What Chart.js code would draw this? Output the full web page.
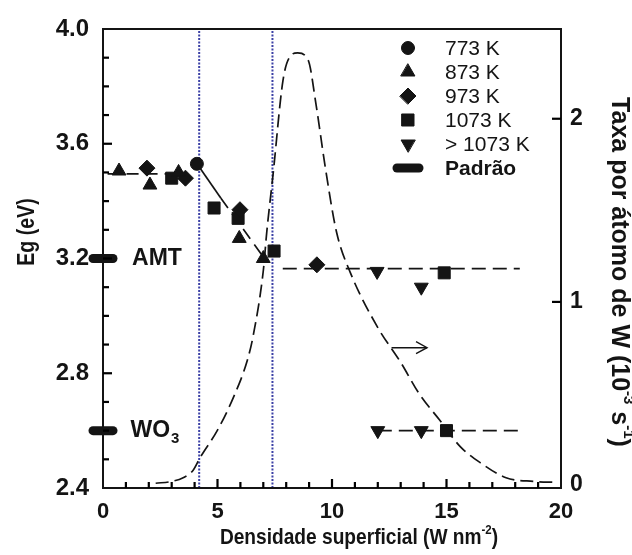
<!DOCTYPE html>
<html><head><meta charset="utf-8">
<script src="https://cdn.jsdelivr.net/npm/chart.js@4.4.1/dist/chart.umd.min.js"></script>
<style>html,body{margin:0;padding:0;background:#fff;}#wrap{width:632px;height:555px;}</style>
</head><body><div id="wrap"><canvas id="c" width="632" height="555"></canvas></div>
<script>
const FONT = '"Liberation Sans", Arial, Helvetica, sans-serif';
const INK = '#141414';

// ---- data ----
const legendLabels = ['773 K', '873 K', '973 K', '1073 K', '> 1073 K', 'Padrão'];
const x773 = [4.1];                                const eg773 = [3.53];
const x873 = [0.7, 2.05, 3.3, 5.95, 7.0];          const eg873 = [3.505, 3.456, 3.50, 3.27, 3.20];
const x973 = [1.92, 3.6, 5.98, 9.34];              const eg973 = [3.515, 3.48, 3.37, 3.178];
const x1073 = [3.0, 4.85, 5.9, 7.47, 14.9, 15.0];  const eg1073 = [3.48, 3.376, 3.34, 3.226, 3.15, 2.60];
const xAbove = [11.97, 13.9, 12.0, 13.9];          const egAbove = [3.155, 3.10, 2.60, 2.60];
const xPadrao = [0, 0];                            const egPadrao = [3.2, 2.6];
const padraoNames = ['AMT', 'WO'];
const padraoSubs = ['', '3'];
const padraoLabelX = [1.27, 1.2];

const guideAX = [0.2, 3.6];    const guideAEg = [3.495, 3.495];
const guideBX = [4.15, 5.15];  const guideBEg = [3.525, 3.41];
const guideCX = [5.15, 7.05];  const guideCEg = [3.41, 3.2];
const guideDX = [7.85, 18.2];  const guideDEg = [3.165, 3.165];
const guideEX = [12.0, 18.2];  const guideEEg = [2.6, 2.6];
const vLineX = [4.2, 7.4];

const rateX = [2.3, 3.0, 3.5, 3.93, 4.24, 5.0, 5.7, 6.3, 6.55, 7.0, 7.15, 7.43, 7.86, 8.17, 8.5, 8.96, 9.3, 9.7, 10.2, 10.8, 12.0, 13.0, 13.8, 14.7, 15.6, 16.5, 17.6, 18.8, 19.8];
const rateV = [0.01, 0.02, 0.04, 0.08, 0.15, 0.30, 0.48, 0.68, 0.81, 1.17, 1.38, 1.70, 2.21, 2.34, 2.36, 2.32, 2.08, 1.74, 1.38, 1.16, 0.86, 0.67, 0.50, 0.355, 0.21, 0.12, 0.04, 0.02, 0.015];
const arrowX = [12.6, 14.15];  const arrowV = [0.75, 0.75];

const egTickLabels = ['2.4', '2.8', '3.2', '3.6', '4.0'];
const xTickLabels = ['0', '5', '10', '15', '20'];
const rateTickLabels = ['0', '1', '2'];
const egMinorTicks = [2.5, 2.6, 2.7, 2.8, 2.9, 3.0, 3.1, 3.2, 3.3, 3.4, 3.5, 3.6, 3.7, 3.8, 3.9];
const xMinorTicks = [1, 2, 3, 4, 5, 6, 7, 8, 9, 10, 11, 12, 13, 14, 15, 16, 17, 18, 19];

const pts = (xs, ys) => xs.map((x, i) => ({x: x, y: ys[i]}));

const markerBase = {backgroundColor: INK, borderColor: INK, borderWidth: 1, showLine: false, clip: false};
const datasets = [
  Object.assign({label: legendLabels[0], data: pts(x773, eg773), pointStyle: 'circle', pointRadius: 6.5}, markerBase),
  Object.assign({label: legendLabels[1], data: pts(x873, eg873), pointStyle: 'triangle', pointRadius: 8}, markerBase),
  Object.assign({label: legendLabels[2], data: pts(x973, eg973), pointStyle: 'rectRot', pointRadius: 8}, markerBase),
  Object.assign({label: legendLabels[3], data: pts(x1073, eg1073), pointStyle: 'rect', pointRadius: 8.5}, markerBase),
  Object.assign({label: legendLabels[4], data: pts(xAbove, egAbove), pointStyle: 'triangle', rotation: 180, pointRadius: 8}, markerBase),
  {label: legendLabels[5], id: 'padrao', data: pts(xPadrao, egPadrao), pointStyle: 'line', pointRadius: 10, borderWidth: 9, borderColor: INK, backgroundColor: INK, showLine: false, clip: false},
  {label: 'gA', data: pts(guideAX, guideAEg), showLine: true, pointRadius: 0, borderColor: INK, borderWidth: 1.7, borderDash: [12, 7]},
  {label: 'gB', data: pts(guideBX, guideBEg), showLine: true, pointRadius: 0, borderColor: INK, borderWidth: 1.7},
  {label: 'gC', data: pts(guideCX, guideCEg), showLine: true, pointRadius: 0, borderColor: INK, borderWidth: 1.7, borderDash: [12, 7]},
  {label: 'gD', data: pts(guideDX, guideDEg), showLine: true, pointRadius: 0, borderColor: INK, borderWidth: 1.7, borderDash: [14, 7]},
  {label: 'gE', data: pts(guideEX, guideEEg), showLine: true, pointRadius: 0, borderColor: INK, borderWidth: 1.7, borderDash: [14, 7]},
  {label: 'rate', data: pts(rateX, rateV), yAxisID: 'y1', showLine: true, pointRadius: 0, borderColor: INK, borderWidth: 1.7, borderDash: [13, 6], cubicInterpolationMode: 'monotone'},
  {label: 'arrow', id: 'arrow', data: pts(arrowX, arrowV), yAxisID: 'y1', showLine: true, pointRadius: 0, borderColor: INK, borderWidth: 1.4},
  {label: 'v1', data: pts([vLineX[0], vLineX[0]], [2.4, 4.0]), showLine: true, pointRadius: 0, borderColor: '#3b40a6', borderWidth: 2, borderDash: [2, 1.5]},
  {label: 'v2', data: pts([vLineX[1], vLineX[1]], [2.4, 4.0]), showLine: true, pointRadius: 0, borderColor: '#3b40a6', borderWidth: 2, borderDash: [2, 1.5]}
];

function drawRich(ctx, runs, size, weight, cx, cy, angle, sx) {
  ctx.save();
  ctx.translate(cx, cy);
  ctx.rotate(angle);
  ctx.scale(sx, 1);
  ctx.textBaseline = 'middle';
  ctx.textAlign = 'left';
  ctx.fillStyle = INK;
  let total = 0;
  runs.forEach(r => {
    const fs = r.sup || r.sub ? size * 0.6 : size;
    ctx.font = weight + ' ' + fs + 'px ' + FONT;
    r.w = ctx.measureText(r.t).width; r.fs = fs; total += r.w;
  });
  let x = -total / 2;
  runs.forEach(r => {
    ctx.font = weight + ' ' + r.fs + 'px ' + FONT;
    const dy = r.sup ? -size * 0.35 : (r.sub ? size * 0.3 : 0);
    ctx.fillText(r.t, x, dy);
    x += r.w;
  });
  ctx.restore();
}

function drawTicks(chart) {
  const ctx = chart.ctx, a = chart.chartArea;
  const xs = chart.scales.x, ys = chart.scales.y, y1 = chart.scales.y1;
  ctx.save();
  ctx.setLineDash([]);
  ctx.globalAlpha = 1;
  ctx.fillStyle = '#000000';
  const TW = 2.2;
  xMinorTicks.forEach(v => {
    const p = xs.getPixelForValue(v);
    const L = xTickLabels.indexOf(String(v)) >= 0 ? 9 : 6;
    ctx.fillRect(p - TW / 2, a.bottom - L, TW, L);
  });
  egMinorTicks.forEach(v => {
    const p = ys.getPixelForValue(v);
    const L = egTickLabels.indexOf(v.toFixed(1)) >= 0 ? 9 : 6;
    ctx.fillRect(a.left, p - TW / 2, L, TW);
  });
  rateTickLabels.forEach(t => {
    const p = y1.getPixelForValue(Number(t));
    if (Number(t) === 0) return;
    ctx.fillRect(a.right - 9, p - TW / 2, 9, TW);
  });
  ctx.restore();
}

const decor = {
  id: 'decor',
  beforeDatasetDraw(chart, args) {
    const ds = chart.data.datasets[args.index];
    if (ds.id === 'padrao') { chart.ctx.save(); chart.ctx.lineCap = 'round'; }
  },
  afterDatasetDraw(chart, args) {
    const ds = chart.data.datasets[args.index];
    if (ds.id === 'padrao') chart.ctx.restore();
  },
  afterDraw(chart) {
    const ctx = chart.ctx, a = chart.chartArea;
    const xs = chart.scales.x, ys = chart.scales.y, y1 = chart.scales.y1;
    ctx.save();
    ctx.setLineDash([]);
    // frame
    ctx.strokeStyle = INK;
    ctx.lineWidth = 2;
    ctx.strokeRect(a.left, a.top, a.right - a.left, a.bottom - a.top);
    // arrow head
    const ar = chart.data.datasets.find(d => d.id === 'arrow').data;
    const tipX = xs.getPixelForValue(ar[1].x), tipY = y1.getPixelForValue(ar[1].y);
    ctx.lineWidth = 1.4;
    ctx.beginPath(); ctx.moveTo(tipX - 11, tipY - 6); ctx.lineTo(tipX, tipY); ctx.lineTo(tipX - 11, tipY + 6); ctx.stroke();
    // legend
    const lx = 408, ly0 = 48, step = 24;
    for (let i = 0; i < 6; i++) {
      const ds = chart.data.datasets[i];
      const y = ly0 + i * step;
      ctx.save();
      ctx.fillStyle = INK; ctx.strokeStyle = INK;
      ctx.lineWidth = ds.borderWidth; ctx.lineCap = 'round';
      const r = ds.pointStyle === 'line' ? 11 : ds.pointRadius;
      Chart.helpers.drawPoint(ctx, {pointStyle: ds.pointStyle, rotation: ds.rotation || 0, radius: r, borderWidth: ds.borderWidth}, lx, y);
      ctx.restore();
      ctx.fillStyle = INK; ctx.textAlign = 'left'; ctx.textBaseline = 'middle';
      ctx.font = (i === 5 ? 'bold ' : '') + '21px ' + FONT;
      ctx.fillText(ds.label, 445, y + 1);
    }
    // padrao labels
    for (let i = 0; i < padraoNames.length; i++) {
      const px = xs.getPixelForValue(padraoLabelX[i]), py = ys.getPixelForValue(egPadrao[i]);
      ctx.font = 'bold 23px ' + FONT; ctx.textAlign = 'left'; ctx.textBaseline = 'middle';
      ctx.fillStyle = INK;
      ctx.fillText(padraoNames[i], px, py);
      if (padraoSubs[i]) {
        const w = ctx.measureText(padraoNames[i]).width;
        ctx.font = 'bold 15px ' + FONT;
        ctx.fillText(padraoSubs[i], px + w + 1, py + 8);
      }
    }
    ctx.restore();
    drawTicks(chart);
    // axis titles
    drawRich(ctx, [{t: 'Densidade superficial (W nm'}, {t: '-2', sup: true}, {t: ')'}], 22, 'bold', 359, 538, 0, 0.87);
    drawRich(ctx, [{t: 'Eg (eV)'}], 23, 'bold', 28, 232, -Math.PI / 2, 0.85);
    drawRich(ctx, [{t: 'Taxa por átomo de W (10'}, {t: '-3', sup: true}, {t: ' s'}, {t: '-1', sup: true}, {t: ')'}], 25, 'bold', 619, 272, Math.PI / 2, 1);
  }
};

const xTickFont = {family: FONT, size: 22, weight: 'bold'};
const yTickFont = {family: FONT, size: 24, weight: 'bold'};
new Chart(document.getElementById('c'), {
  type: 'scatter',
  data: {datasets: datasets},
  options: {
    responsive: false, animation: false, devicePixelRatio: 1,
    layout: {padding: {top: 29, left: 0, right: 0, bottom: 0}},
    plugins: {legend: {display: false}, tooltip: {enabled: false}},
    elements: {line: {tension: 0}},
    scales: {
      x: {
        type: 'linear', position: 'bottom', min: 0, max: 20,
        grid: {display: false, drawTicks: false}, border: {display: false},
        afterBuildTicks: (s) => { s.ticks = xTickLabels.map(t => ({value: Number(t)})); },
        ticks: {autoSkip: false, maxRotation: 0, padding: 11, color: INK, font: xTickFont, callback: (v) => String(v)},
        afterFit: (s) => { s.height = 67; }
      },
      y: {
        type: 'linear', position: 'left', min: 2.4, max: 4.0,
        grid: {display: false, drawTicks: false}, border: {display: false},
        afterBuildTicks: (s) => { s.ticks = egTickLabels.map(t => ({value: Number(t)})); },
        ticks: {autoSkip: false, padding: 14, color: INK, font: yTickFont, callback: (v) => Number(v).toFixed(1)},
        afterFit: (s) => { s.width = 103; }
      },
      y1: {
        type: 'linear', position: 'right', min: -0.016, max: 2.49,
        grid: {display: false, drawTicks: false}, border: {display: false},
        afterBuildTicks: (s) => { s.ticks = rateTickLabels.map(t => ({value: Number(t)})); },
        ticks: {padding: 9, color: INK, font: {family: FONT, size: 23, weight: 'bold'}, callback: (v) => String(v)},
        afterFit: (s) => { s.width = 71; }
      }
    }
  },
  plugins: [decor]
});
</script>
</body></html>
